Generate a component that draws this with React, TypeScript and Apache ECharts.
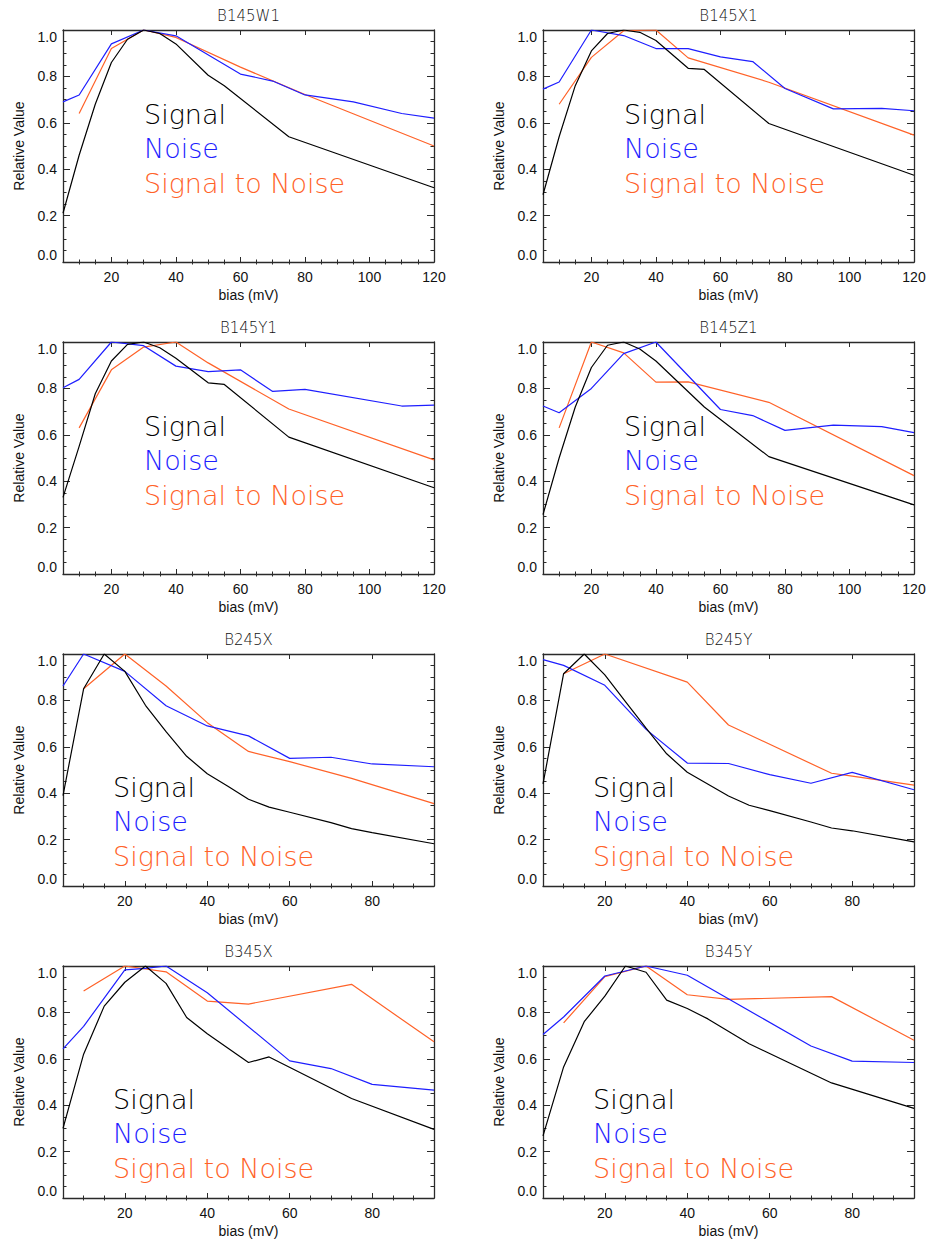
import React, { useEffect, useRef } from "react";
import * as echarts from "echarts";

// ---- tick labels ----
const xMajorWide = [20, 40, 60, 80, 100, 120];
const xMajorNarrow = [20, 40, 60, 80];
const yTickLabels = [0, 0.2, 0.4, 0.6, 0.8, 1.0];

// ---- panel titles ----
const titles = ["B145W1", "B145X1", "B145Y1", "B145Z1", "B245X", "B245Y", "B345X", "B345Y"];

// ---- data: [bias mV, relative value] ----
const w1Signal = [[5,0.21],[10,0.46],[15,0.68],[20,0.86],[25,0.96],[30,1.0],[35,0.985],[40,0.94],[50,0.805],[55,0.76],[75,0.54],[120,0.32]];
const w1Noise = [[5,0.69],[10,0.72],[20,0.94],[30,1.0],[40,0.975],[60,0.81],[70,0.78],[80,0.72],[95,0.69],[110,0.64],[120,0.62]];
const w1StN = [[10,0.64],[20,0.92],[30,1.0],[40,0.968],[60,0.84],[80,0.722],[120,0.5]];

const x1Signal = [[5,0.29],[10,0.54],[15,0.76],[20,0.91],[25,0.985],[30,1.0],[35,0.99],[40,0.955],[50,0.835],[55,0.83],[75,0.597],[120,0.374]];
const x1Noise = [[5,0.745],[10,0.776],[20,1.0],[30,0.976],[40,0.92],[50,0.92],[60,0.884],[70,0.864],[80,0.748],[95,0.66],[110,0.662],[120,0.652]];
const x1StN = [[10,0.68],[20,0.882],[30,0.997],[40,1.0],[50,0.88],[75,0.775],[120,0.547]];

const y1Signal = [[5,0.33],[10,0.55],[15,0.777],[20,0.918],[25,0.99],[30,1.0],[35,0.975],[40,0.93],[50,0.824],[55,0.817],[75,0.59],[120,0.372]];
const y1Noise = [[5,0.803],[10,0.839],[20,1.0],[30,0.984],[40,0.896],[50,0.872],[60,0.88],[70,0.787],[80,0.796],[110,0.724],[120,0.728]];
const y1StN = [[10,0.63],[20,0.88],[30,0.978],[40,1.0],[50,0.91],[75,0.711],[120,0.492]];

const z1Signal = [[5,0.256],[10,0.5],[15,0.72],[20,0.89],[25,0.986],[30,1.0],[35,0.97],[40,0.918],[55,0.72],[75,0.506],[120,0.298]];
const z1Noise = [[5,0.724],[10,0.695],[20,0.8],[30,0.95],[40,1.0],[60,0.709],[70,0.683],[80,0.619],[95,0.642],[110,0.635],[120,0.609]];
const z1StN = [[10,0.63],[20,1.0],[30,0.953],[40,0.827],[50,0.828],[75,0.74],[120,0.424]];

const b245xSignal = [[5,0.39],[10,0.85],[15,1.0],[20,0.925],[25,0.779],[30,0.665],[35,0.559],[40,0.484],[45,0.43],[50,0.374],[55,0.34],[60,0.318],[70,0.273],[75,0.247],[80,0.23],[95,0.182]];
const b245xNoise = [[5,0.862],[10,1.0],[20,0.925],[30,0.777],[40,0.69],[50,0.647],[60,0.55],[70,0.555],[80,0.526],[95,0.514]];
const b245xStN = [[10,0.85],[20,1.0],[30,0.862],[40,0.704],[50,0.58],[60,0.536],[75,0.464],[95,0.355]];

const b245ySignal = [[5,0.44],[10,0.915],[15,1.0],[20,0.91],[25,0.795],[30,0.68],[35,0.57],[40,0.49],[50,0.388],[55,0.348],[60,0.325],[70,0.276],[75,0.25],[80,0.238],[95,0.19]];
const b245yNoise = [[5,0.976],[10,0.951],[20,0.865],[30,0.675],[40,0.53],[50,0.528],[60,0.48],[70,0.443],[80,0.49],[95,0.415]];
const b245yStN = [[10,0.915],[20,1.0],[40,0.879],[50,0.694],[75,0.486],[80,0.474],[95,0.435]];

const b345xSignal = [[5,0.3],[10,0.62],[15,0.827],[20,0.93],[25,1.0],[30,0.925],[35,0.778],[40,0.708],[50,0.584],[55,0.608],[75,0.429],[95,0.296]];
const b345xNoise = [[5,0.643],[10,0.74],[20,0.983],[25,0.99],[30,1.0],[40,0.885],[60,0.591],[70,0.558],[80,0.49],[95,0.465]];
const b345xStN = [[10,0.892],[20,1.0],[30,0.975],[40,0.849],[50,0.836],[75,0.921],[95,0.673]];

const b345ySignal = [[5,0.268],[10,0.565],[15,0.76],[20,0.87],[25,1.0],[30,0.973],[35,0.853],[40,0.817],[45,0.772],[55,0.665],[75,0.496],[95,0.386]];
const b345yNoise = [[5,0.705],[10,0.78],[20,0.957],[30,1.0],[40,0.96],[70,0.655],[80,0.59],[95,0.584]];
const b345yStN = [[10,0.755],[20,0.954],[30,1.0],[40,0.876],[50,0.856],[75,0.868],[95,0.68]];

const signals = [w1Signal, x1Signal, y1Signal, z1Signal, b245xSignal, b245ySignal, b345xSignal, b345ySignal];
const noises = [w1Noise, x1Noise, y1Noise, z1Noise, b245xNoise, b245yNoise, b345xNoise, b345yNoise];
const stns = [w1StN, x1StN, y1StN, z1StN, b245xStN, b245yStN, b345xStN, b345yStN];
const xMaxes = [120, 120, 120, 120, 95, 95, 95, 95];
const xMin = 5;

const legendLabels = ["Signal", "Noise", "Signal to Noise"];
const COLORS = ["#000000", "#1e1eff", "#ff6228"];

const FONT = '"Liberation Sans", Arial, sans-serif';
const LEGEND_FONT = '"DejaVu Sans", sans-serif';

export default function App() {
  const ref = useRef<HTMLDivElement>(null);

  useEffect(() => {
    if (!ref.current) return;
    const chart = echarts.init(ref.current, null, { renderer: "svg" });

    const colLeft = [63, 543];
    const rowTop = [30, 342, 654, 966];
    const W = 371;
    const H = 232;
    const AX = "#2a2a2a";

    const grids: any[] = [];
    const xAxes: any[] = [];
    const yAxes: any[] = [];
    const series: any[] = [];
    const graphics: any[] = [];

    for (let p = 0; p < 8; p++) {
      const row = Math.floor(p / 2);
      const col = p % 2;
      const left = colLeft[col];
      const top = rowTop[row];
      const xMax = xMaxes[p];
      const majors = xMax === 120 ? xMajorWide : xMajorNarrow;
      const minors: number[] = [];
      for (let v = xMin + 5; v < xMax; v += 5) if (majors.indexOf(v) < 0) minors.push(v);

      grids.push({ left, top, width: W, height: H, containLabel: false });

      const baseX = { type: "value", gridIndex: p, min: xMin, max: xMax, splitLine: { show: false } };
      xAxes.push({
        ...baseX,
        position: "bottom",
        axisLine: { show: true, onZero: false, lineStyle: { color: AX, width: 1.3 } },
        axisTick: { show: true, inside: true, length: 5, customValues: majors, lineStyle: { color: AX } },
        axisLabel: { show: true, customValues: majors, margin: 8, color: "#111", fontSize: 14, fontFamily: FONT },
        name: "bias (mV)",
        nameLocation: "middle",
        nameGap: 26,
        nameTextStyle: { color: "#111", fontSize: 14, fontFamily: FONT },
      });
      xAxes.push({
        ...baseX,
        position: "bottom",
        axisLine: { show: false },
        axisTick: { show: true, inside: true, length: 2.5, customValues: minors, lineStyle: { color: AX } },
        axisLabel: { show: false },
      });
      xAxes.push({
        ...baseX,
        position: "top",
        axisLine: { show: true, onZero: false, lineStyle: { color: AX, width: 1.3 } },
        axisTick: { show: true, inside: true, length: 5, customValues: majors, lineStyle: { color: AX } },
        axisLabel: { show: false },
      });
      xAxes.push({
        ...baseX,
        position: "top",
        axisLine: { show: false },
        axisTick: { show: true, inside: true, length: 2.5, customValues: minors, lineStyle: { color: AX } },
        axisLabel: { show: false },
      });

      const baseY = {
        type: "value",
        gridIndex: p,
        min: yTickLabels[0],
        max: yTickLabels[yTickLabels.length - 1],
        interval: 0.2,
        splitLine: { show: false },
        axisLine: { show: true, onZero: false, lineStyle: { color: AX, width: 1.3 } },
        axisTick: { show: true, inside: true, length: 7, lineStyle: { color: AX } },
        minorTick: { show: true, splitNumber: 4, length: 3.5, lineStyle: { color: AX } },
      };
      yAxes.push({
        ...baseY,
        position: "left",
        axisLabel: {
          show: true,
          margin: 6,
          color: "#111",
          fontSize: 14,
          fontFamily: FONT,
          formatter: (v: number) => v.toFixed(1),
          verticalAlignMinLabel: "bottom",
          verticalAlignMaxLabel: "top",
        },
        name: "Relative Value",
        nameLocation: "middle",
        nameGap: 37,
        nameTextStyle: { color: "#111", fontSize: 14, fontFamily: FONT },
      });
      yAxes.push({
        ...baseY,
        position: "right",
        axisLabel: { show: false },
      });

      const dataSets = [signals[p], noises[p], stns[p]];
      dataSets.forEach((d, k) => {
        series.push({
          type: "line",
          name: legendLabels[k] + " " + titles[p],
          xAxisIndex: p * 4,
          yAxisIndex: p * 2,
          data: d,
          symbol: "none",
          lineStyle: { color: COLORS[k], width: 1.2 },
          z: 3 - k,
        });
      });

      graphics.push({
        type: "text",
        x: left + W / 2,
        y: top - 14,
        style: {
          text: titles[p],
          fontSize: 15,
          fontWeight: 200,
          fontFamily: LEGEND_FONT,
          fill: "#111",
          textAlign: "center",
          textVerticalAlign: "middle",
        },
      });

      const lx = row < 2 ? left + 81 : left + 50;
      const ly0 = row < 2 ? top + 84 : top + 133;
      legendLabels.forEach((t, k) => {
        graphics.push({
          type: "text",
          x: lx,
          y: ly0 + k * 34.5,
          style: {
            text: t,
            fontSize: 27,
            fontWeight: 200,
            fontFamily: LEGEND_FONT,
            fill: COLORS[k],
            textAlign: "left",
            textVerticalAlign: "middle",
          },
        });
      });
    }

    chart.setOption({
      animation: false,
      backgroundColor: "#ffffff",
      grid: grids,
      xAxis: xAxes,
      yAxis: yAxes,
      series,
      graphic: graphics,
    });

    return () => chart.dispose();
  }, []);

  return (
    <div
      ref={ref}
      style={{ position: "absolute", left: 0, top: 0, width: 931, height: 1243, background: "#fff" }}
    />
  );
}
